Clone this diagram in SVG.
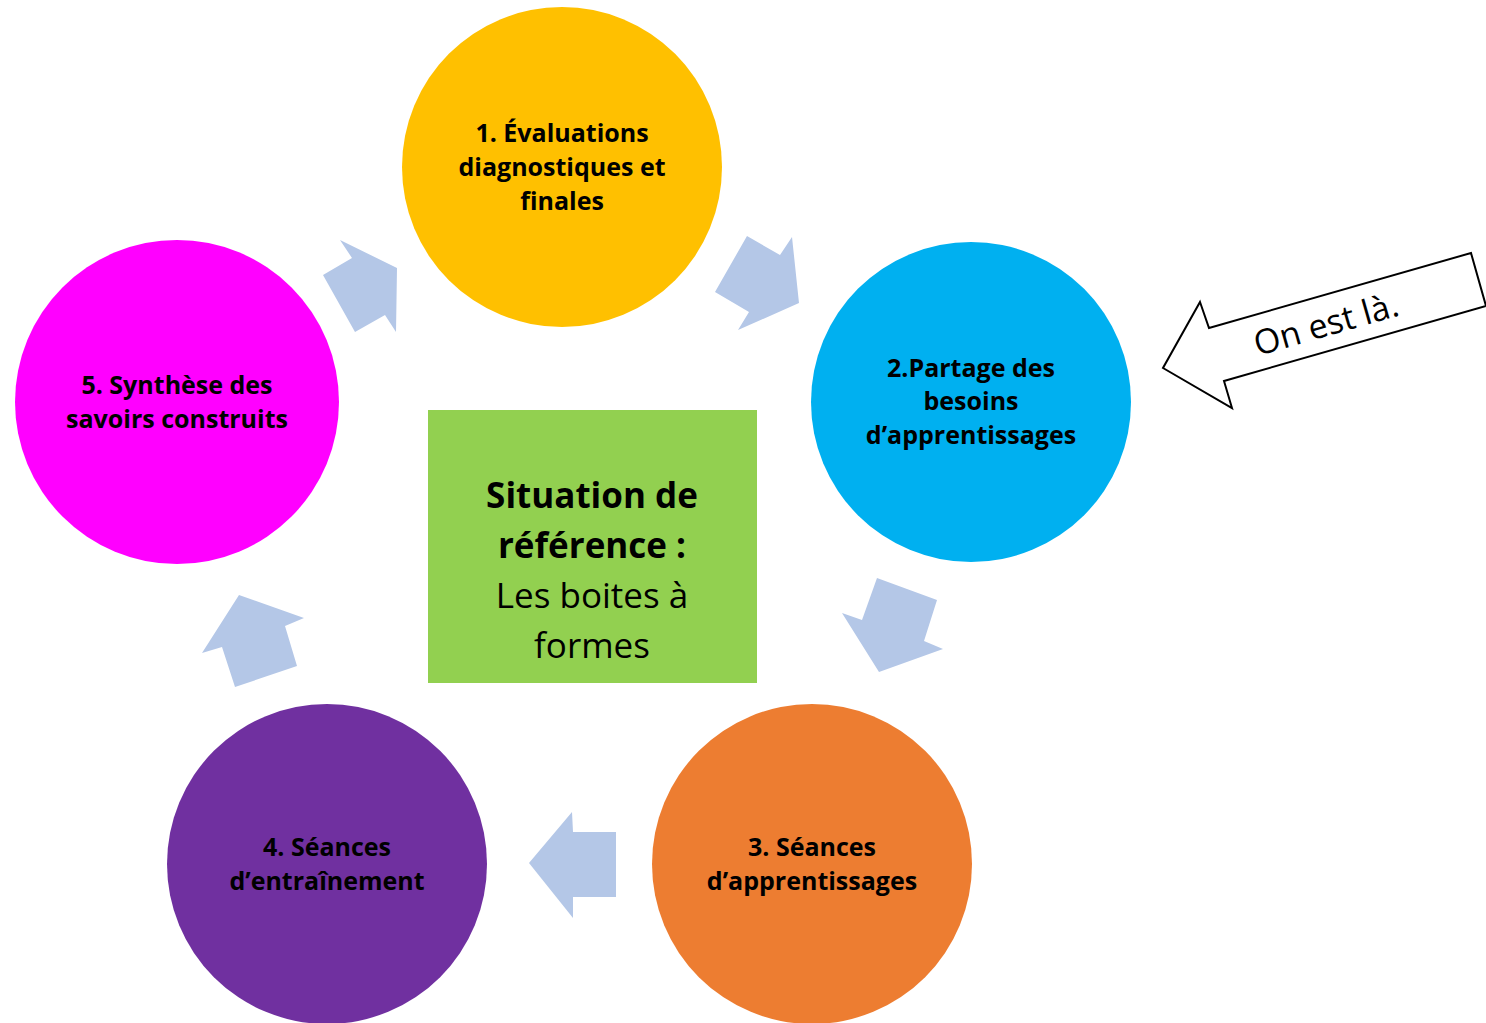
<svg xmlns="http://www.w3.org/2000/svg" width="1486" height="1023" viewBox="0 0 1486 1023">
<style>
.lbl{font-family:"Open Sans","Liberation Sans",sans-serif;font-weight:bold;font-size:25px;fill:#000;text-anchor:middle}
.ctr{font-family:"Open Sans","Liberation Sans",sans-serif;font-size:35px;fill:#000;text-anchor:middle}
.arr{fill:#B4C7E7}
</style>
<rect width="1486" height="1023" fill="#fff"/>
<g id="connectors">
<polygon class="arr" points="340,240 397,268 396,332 385,315 355,332 323,275 352,258"/>
<polygon class="arr" points="747,236 780,255 792,237 799,303 738,330 749,312 715,292"/>
<polygon class="arr" points="877,578 937,600 924,641 943,649 879,672 842,613 862,620"/>
<polygon class="arr" points="529,863 572,812 573,832 616,832 616,897 573,897 573,918"/>
<polygon class="arr" points="239,595 304,618 285,626 297,666 235,687 222,647 202,653"/>
</g>
<g id="node1">
<circle cx="562" cy="167" r="160" fill="#FFC000"/>
<text class="lbl" x="562" y="142">1. Évaluations</text>
<text class="lbl" x="562" y="176">diagnostiques et</text>
<text class="lbl" x="562" y="210">finales</text>
</g>
<g id="node2">
<circle cx="971" cy="402" r="160" fill="#00B0F0"/>
<text class="lbl" x="971" y="377">2.Partage des</text>
<text class="lbl" x="971" y="410">besoins</text>
<text class="lbl" x="971" y="444">d’apprentissages</text>
</g>
<g id="node3">
<circle cx="812" cy="864" r="160" fill="#ED7D31"/>
<text class="lbl" x="812" y="856">3. Séances</text>
<text class="lbl" x="812" y="890">d’apprentissages</text>
</g>
<g id="node4">
<circle cx="327" cy="864" r="160" fill="#7030A0"/>
<text class="lbl" x="327" y="856">4. Séances</text>
<text class="lbl" x="327" y="890">d’entraînement</text>
</g>
<g id="node5">
<circle cx="177" cy="402" r="162" fill="#FF00FF"/>
<text class="lbl" x="177" y="394">5. Synthèse des</text>
<text class="lbl" x="177" y="428">savoirs construits</text>
</g>
<g id="center">
<rect x="428" y="410" width="329" height="273" fill="#92D050"/>
<text class="ctr" x="592" y="508" font-weight="bold">Situation de</text>
<text class="ctr" x="592" y="558" font-weight="bold">référence :</text>
<text class="ctr" x="592" y="608">Les boites à</text>
<text class="ctr" x="592" y="658">formes</text>
</g>
<g id="callout">
<polygon points="1200,302 1209,328 1471,253 1486,306 1224,381 1232,408 1163,368" fill="#fff" stroke="#000" stroke-width="2"/>
<text x="1326" y="336" transform="rotate(-16 1326 324)" font-family="Open Sans, Liberation Sans, sans-serif" font-size="34" text-anchor="middle">On est là.</text>
</g>
</svg>
